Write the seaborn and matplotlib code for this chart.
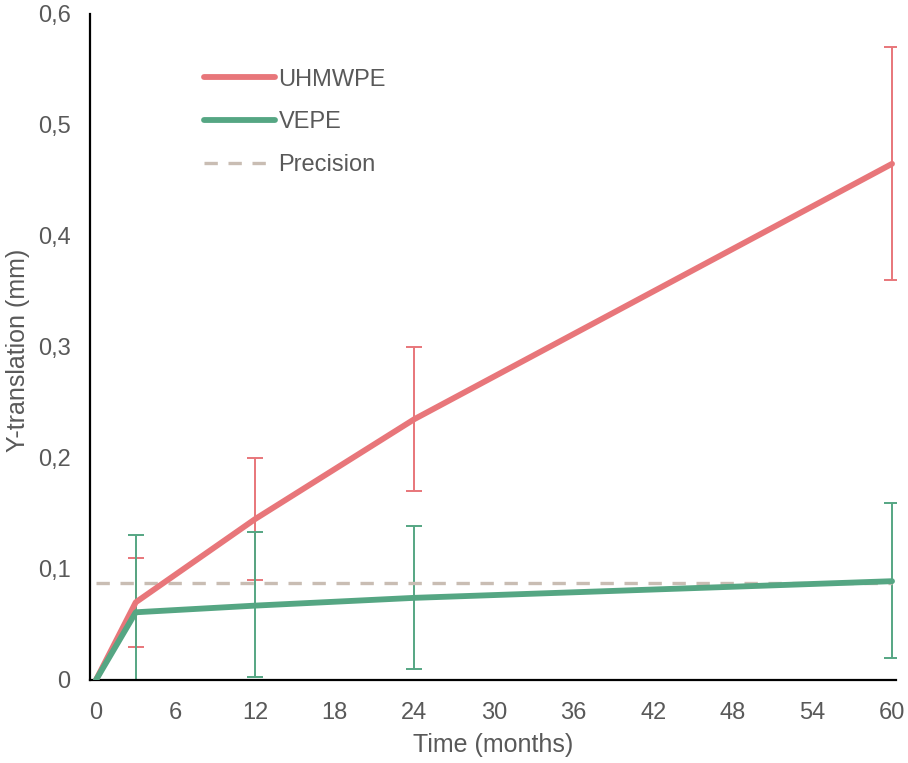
import matplotlib
matplotlib.use("Agg")
import matplotlib.pyplot as plt
import seaborn as sns
import pandas as pd
from matplotlib.ticker import FuncFormatter
from matplotlib.lines import Line2D

sns.set_style("white")
plt.rcParams['font.family'] = ['Liberation Sans', 'DejaVu Sans']

months = [0, 3, 12, 24, 60]
uhmwpe = [0.0, 0.07, 0.145, 0.235, 0.465]
uhmwpe_lo = [None, 0.03, 0.09, 0.17, 0.36]
uhmwpe_hi = [None, 0.11, 0.20, 0.30, 0.57]
vepe = [0.0, 0.061, 0.067, 0.074, 0.089]
vepe_lo = [None, 0.0, 0.003, 0.01, 0.02]
vepe_hi = [None, 0.131, 0.133, 0.139, 0.159]
precision = 0.087
xticks = [0, 6, 12, 18, 24, 30, 36, 42, 48, 54, 60]
yticks = [0, 0.1, 0.2, 0.3, 0.4, 0.5, 0.6]

red = "#E8767A"
green = "#55A683"
beige = "#C9BDB3"
grey = "#595959"

df = pd.DataFrame({
    "Time": months * 2,
    "Y": uhmwpe + vepe,
    "Group": ["UHMWPE"] * len(months) + ["VEPE"] * len(months),
})

fig = plt.figure(figsize=(9.08, 7.63), dpi=100)
ax = fig.add_axes([0.0991, 0.1088, 0.8877, 0.8729])

for vals, lo, hi, col in [(uhmwpe, uhmwpe_lo, uhmwpe_hi, red), (vepe, vepe_lo, vepe_hi, green)]:
    xs = [m for m, l in zip(months, lo) if l is not None]
    ys = [v for v, l in zip(vals, lo) if l is not None]
    el = [v - l for v, l in zip(vals, lo) if l is not None]
    eh = [h - v for v, h in zip(vals, hi) if h is not None]
    ax.errorbar(xs, ys, yerr=[el, eh], fmt="none", ecolor=col, elinewidth=1.4,
                capsize=5.5, capthick=1.4, zorder=2)

ax.plot([0, 60], [precision, precision], color=beige, lw=2.4, dashes=(4, 3.2),
        label="Precision", zorder=3)
sns.lineplot(data=df, x="Time", y="Y", hue="Group", palette=[red, green], lw=4.2,
             ax=ax, legend=False, zorder=4, solid_capstyle="round")

handles = [Line2D([], [], color=red, lw=4.2, solid_capstyle="round"),
           Line2D([], [], color=green, lw=4.2, solid_capstyle="round"),
           Line2D([], [], color=beige, lw=2.4, dashes=(4, 3.2))]
leg = ax.legend(handles, ["UHMWPE", "VEPE", "Precision"], loc="upper left",
                bbox_to_anchor=(0.13, 0.932), frameon=False, fontsize=17,
                handlelength=3.0, handletextpad=0.15, labelspacing=0.88,
                labelcolor=grey, borderaxespad=0)

ax.set_xlim(-0.45, 60.3)
ax.set_ylim(0, 0.6)
ax.set_xticks(xticks)
ax.set_yticks(yticks)
ax.yaxis.set_major_formatter(FuncFormatter(lambda v, p: "0" if v == 0 else f"{v:.1f}".replace(".", ",")))
ax.tick_params(axis="x", length=0, labelsize=17, labelcolor=grey, pad=16)
ax.tick_params(axis="y", length=0, labelsize=17, labelcolor=grey, pad=14)
ax.set_xlabel("Time (months)", fontsize=18, color=grey, labelpad=6)
ax.set_ylabel("Y-translation (mm)", fontsize=18, color=grey)
ax.yaxis.set_label_coords(-0.074, 0.495)
for s in ["top", "right"]:
    ax.spines[s].set_visible(False)
for s in ["left", "bottom"]:
    ax.spines[s].set_color("black")
    ax.spines[s].set_linewidth(1.6)

fig.savefig("out.png", dpi=100)
